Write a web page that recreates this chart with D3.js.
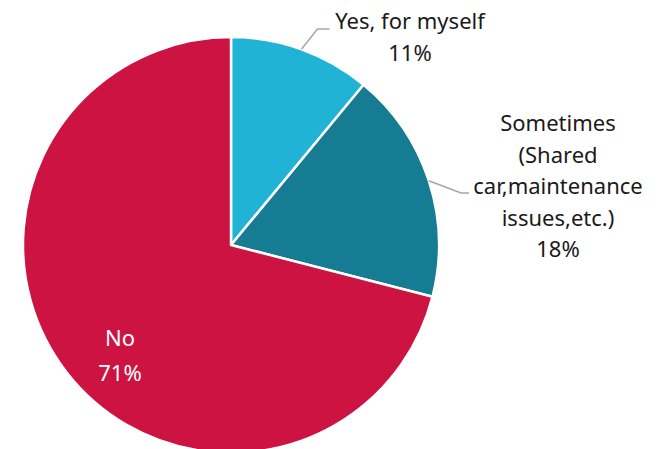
<!DOCTYPE html>
<html>
<head>
<meta charset="utf-8">
<script src="https://cdn.jsdelivr.net/npm/d3@7"></script>
<style>
  body { margin: 0; background: #fff; }
  text { font-family: "Noto Sans", "Open Sans", sans-serif; font-size: 22px; }
</style>
</head>
<body>
<svg id="chart" width="658" height="449"></svg>
<script>
// chart data
var categories = ["Yes, for myself", "Sometimes (Shared car,maintenance issues,etc.)", "No"];
var values = [11, 18, 71];
var colors = ["#20B3D6", "#157C94", "#CD1341"];
var labelLines = [
  ["Yes, for myself", "11%"],
  ["Sometimes", "(Shared", "car,maintenance", "issues,etc.)", "18%"],
  ["No", "71%"]
];

var svg = d3.select("#chart");
var cx = 231, cy = 245, radius = 208;

var g = svg.append("g").attr("transform", "translate(" + cx + "," + cy + ")");

var pie = d3.pie().sort(null).value(function(d) { return d; });
var arcs = pie(values);
var arc = d3.arc().innerRadius(0).outerRadius(radius);

g.selectAll("path.slice")
  .data(arcs)
  .enter().append("path")
    .attr("class", "slice")
    .attr("d", arc)
    .attr("fill", function(d, i) { return colors[i]; })
    .attr("stroke", "#fff")
    .attr("stroke-width", 2.5)
    .attr("stroke-linejoin", "round");

// leader lines for the outside labels
function edgePoint(d, r) {
  var a = (d.startAngle + d.endAngle) / 2;
  return [r * Math.sin(a), -r * Math.cos(a)];
}

// Yes label
var p0 = edgePoint(arcs[0], radius);
g.append("polyline")
  .attr("points", [p0, [p0[0] + 16, -216], [p0[0] + 28, -216]].map(function(p) { return p.join(","); }).join(" "))
  .attr("fill", "none").attr("stroke", "#a6a6a6").attr("stroke-width", 1.5);

var t0 = svg.append("text").attr("fill", "#1a1a1a").attr("text-anchor", "middle");
labelLines[0].forEach(function(s, i) {
  t0.append("tspan").attr("x", 410).attr("y", 29 + i * 32).text(s);
});

// Sometimes label
var p1 = edgePoint(arcs[1], radius);
g.append("polyline")
  .attr("points", [p1, [230, -52], [238, -52]].map(function(p) { return p.join(","); }).join(" "))
  .attr("fill", "none").attr("stroke", "#a6a6a6").attr("stroke-width", 1.5);

var t1 = svg.append("text").attr("fill", "#1a1a1a").attr("text-anchor", "middle");
labelLines[1].forEach(function(s, i) {
  t1.append("tspan").attr("x", 558).attr("y", 131 + i * 31.5).text(s);
});

// No label (inside)
var t2 = svg.append("text").attr("fill", "#fff").attr("text-anchor", "middle");
labelLines[2].forEach(function(s, i) {
  t2.append("tspan").attr("x", 120).attr("y", 346 + i * 35).text(s);
});
</script>
</body>
</html>
